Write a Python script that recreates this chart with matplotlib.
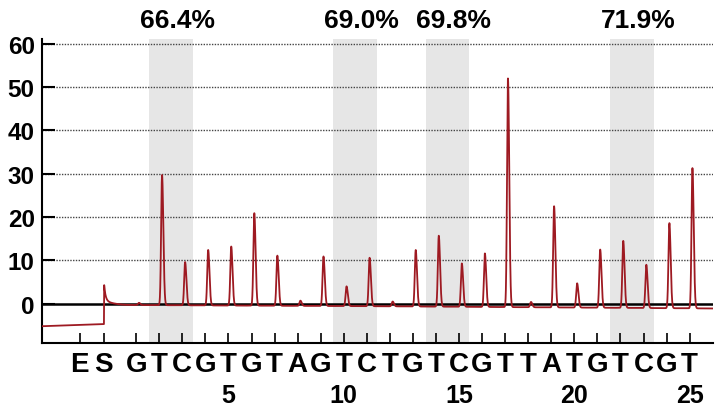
import numpy as np
import matplotlib
matplotlib.use("Agg")
import matplotlib.pyplot as plt
from matplotlib.transforms import blended_transform_factory

# ---------------- data ----------------
dispensations = list("GTCGTGTAGTCTGTCGTTATGTCGT")
peak_heights = [0.2, 29.7, 9.6, 12.4, 13.2, 20.9, 11.1, 0.7, 10.9, 4.0, 10.6, 0.5,
                12.4, 15.7, 9.3, 11.6, 52.0, 0.4, 22.5, 4.7, 12.5, 14.5, 9.0, 18.6, 31.3]
control_labels = ["E", "S"]
control_positions = [-1.45, -0.4]
substrate_height = 4.3
pre_baseline_x = [-3.1, -0.42]
pre_baseline_y = [-5.2, -4.7]
post_baseline_x = [-0.4, 0.5, 12.0, 26.0]
post_baseline_y = [0.0, -0.3, -0.6, -1.1]
cpg_labels = ["66.4%", "69.0%", "69.8%", "71.9%"]
cpg_first_pos = [2, 10, 14, 22]          # T of each T/C pair
number_ticks = [5, 10, 15, 20, 25]
y_ticks = [0, 10, 20, 30, 40, 50, 60]

# ---------------- style ----------------
plt.rcParams['font.family'] = ['Liberation Sans', 'DejaVu Sans']
plt.rcParams['font.weight'] = 'bold'
trace_color = '#9e1a22'

fig = plt.figure(figsize=(7.2, 4.14), dpi=100)
ax = fig.add_axes([0.0579, 0.1691, 0.9320, 0.7343])
ax.set_xlim(-3.1, 26.0)
ax.set_ylim(-9.07, 61.1)

# trace built from the peak heights
x = np.linspace(-3.1, 26.0, 8000)
base = np.where(x < control_positions[1],
                np.interp(x, pre_baseline_x, pre_baseline_y),
                np.interp(x, post_baseline_x, post_baseline_y))
signal = base.copy()
s0 = control_positions[1] + 0.01
d = x - s0
signal += np.where(d >= 0, substrate_height * (0.8 * np.exp(-d / 0.06) + 0.2 * np.exp(-d / 0.3)), 0)
for i, h in enumerate(peak_heights):
    c = i + 1 + 0.12
    b_c = np.interp(c, post_baseline_x, post_baseline_y)
    d = x - c
    sig = np.where(d < 0, 0.04, 0.055)
    signal += (h - b_c) * np.exp(-0.5 * (d / sig) ** 2)

# shaded CpG regions
for p in cpg_first_pos:
    ax.axvspan(p + 0.5 - 0.95, p + 0.5 + 0.95, color='#e6e6e6', lw=0, zorder=0)

for yv in y_ticks[1:]:
    ax.axhline(yv, color='#444444', lw=1.0, ls=(0, (1, 1)), zorder=1)
ax.axhline(0, color='black', lw=1.8, zorder=2)

ax.plot(x, signal, color=trace_color, lw=1.3, zorder=3)

for s in ['top', 'right']:
    ax.spines[s].set_visible(False)
for s in ['left', 'bottom']:
    ax.spines[s].set_linewidth(1.5)

ax.set_yticks(y_ticks)
ax.set_yticklabels([str(v) for v in y_ticks])
ax.tick_params(axis='y', direction='in', length=9, width=1.5, labelsize=17.5, pad=5)

xt = control_positions + list(range(1, len(dispensations) + 1))
xl = control_labels + dispensations
ax.set_xticks(xt)
ax.set_xticklabels(xl)
ax.tick_params(axis='x', direction='in', length=7, width=1.2, labelsize=20, pad=6)

trans = blended_transform_factory(ax.transData, ax.transAxes)
for n in number_ticks:
    ax.annotate(str(n), xy=(n, 0), xycoords=trans, xytext=(0, -37.5),
                textcoords='offset points', ha='center', va='center',
                fontsize=18, fontweight='bold')

for lab, p in zip(cpg_labels, cpg_first_pos):
    ax.text(p + 0.5 + 0.28, 1.064, lab, transform=trans, ha='center', va='center',
            fontsize=19, fontweight='bold')

fig.savefig('out.png', dpi=100)
